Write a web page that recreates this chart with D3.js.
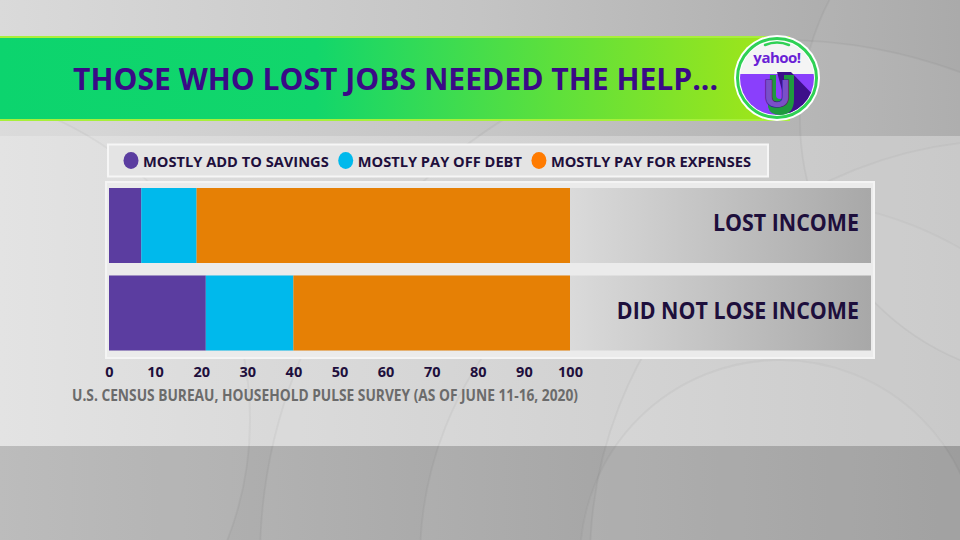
<!DOCTYPE html>
<html>
<head>
<meta charset="utf-8">
<script src="https://cdn.jsdelivr.net/npm/d3@7/dist/d3.min.js"></script>
<style>
  html, body { margin: 0; padding: 0; background: #c8c8c8; }
  svg { display: block; }
  text { font-family: "Open Sans", "DejaVu Sans", sans-serif; font-weight: 700; }
</style>
</head>
<body>
<script>
// ---------- data ----------
const categories = ["LOST INCOME", "DID NOT LOSE INCOME"];
const seriesNames = ["MOSTLY ADD TO SAVINGS", "MOSTLY PAY OFF DEBT", "MOSTLY PAY FOR EXPENSES"];
const savings  = [7, 21];
const debt     = [12, 19];
const expenses = [81, 60];
const tickValues = [0, 10, 20, 30, 40, 50, 60, 70, 80, 90, 100];
const titleText = "THOSE WHO LOST JOBS NEEDED THE HELP...";
const sourceText = "U.S. CENSUS BUREAU, HOUSEHOLD PULSE SURVEY (AS OF JUNE 11-16, 2020)";

const barColors = ["#5b3da0", "#00b9ec", "#e68005"];
const legendColors = ["#5b3da0", "#00b9ec", "#ff7b00"];
const ink = "#1e0f3c";

const W = 960, H = 540;
const svg = d3.select("body").append("svg").attr("width", W).attr("height", H);
const defs = svg.append("defs");

function lin(id, stops, x1, x2, y1, y2, user) {
  const g = defs.append("linearGradient").attr("id", id)
    .attr("x1", x1).attr("x2", x2).attr("y1", y1).attr("y2", y2);
  if (user) g.attr("gradientUnits", "userSpaceOnUse");
  stops.forEach(s => g.append("stop").attr("offset", s[0]).attr("stop-color", s[1]));
}
lin("gTop", [[0, "#dadada"], [0.5, "#c4c4c4"], [1, "#a6a6a6"]], "0%", "100%", "0%", "0%");
lin("gMid", [[0, "#e2e2e2"], [0.5, "#d2d2d2"], [1, "#c2c2c2"]], "0%", "100%", "0%", "0%");
lin("gBot", [[0, "#b9b9b9"], [0.5, "#a4a4a4"], [1, "#8e8e8e"]], "0%", "100%", "0%", "0%");
lin("gBanner", [[0, "#0cd46e"], [0.4, "#12d66b"], [0.7, "#5de03c"], [1, "#a6e616"]], "0%", "100%", "0%", "0%");
lin("gRow", [[0, "#dcdcdc"], [1, "#a8a8a8"]], 560, 871, 0, 0, true);

// ---------- background ----------
svg.append("rect").attr("width", W).attr("height", 136).attr("fill", "url(#gTop)");
svg.append("rect").attr("y", 136).attr("width", W).attr("height", 310).attr("fill", "url(#gMid)");
svg.append("rect").attr("y", 446).attr("width", W).attr("height", 94).attr("fill", "url(#gBot)");

const deco = svg.append("g");
[[780, 560, 200], [780, 560, 360], [780, 560, 520], [1010, 560, 420], [-80, 420, 330], [1060, 120, 260]].forEach(c => {
  deco.append("circle").attr("cx", c[0]).attr("cy", c[1]).attr("r", c[2])
    .attr("fill", "#ffffff").attr("fill-opacity", 0.05)
    .attr("stroke", "#000").attr("stroke-opacity", 0.035).attr("stroke-width", 2);
});

// ---------- banner ----------
svg.append("rect").attr("x", 0).attr("y", 36).attr("width", 790).attr("height", 85).attr("fill", "#a8ef3a");
svg.append("rect").attr("x", 0).attr("y", 38).attr("width", 790).attr("height", 81).attr("fill", "url(#gBanner)");

const title = svg.append("text").attr("x", 73).attr("y", 90)
  .attr("font-size", 30).attr("fill", "#3a0a86").text(titleText);
title.attr("textLength", 645).attr("lengthAdjust", "spacingAndGlyphs");

// logo
const logo = svg.append("g").attr("transform", "translate(777,78)");
logo.append("circle").attr("r", 43).attr("fill", "#ffffff");
logo.append("circle").attr("r", 39.5).attr("fill", "none").attr("stroke", "#2fd155").attr("stroke-width", 3);
defs.append("clipPath").attr("id", "logoClip").append("circle").attr("r", 37);
const lc = logo.append("g").attr("clip-path", "url(#logoClip)");
lc.append("rect").attr("x", -40).attr("y", -40).attr("width", 80).attr("height", 80).attr("fill", "#f4f4f4");
lc.append("rect").attr("x", -40).attr("y", -4).attr("width", 80).attr("height", 44).attr("fill", "#8a3ffc");
lc.append("path").attr("d", "M0,-6 L14,-6 L45,26 L45,45 L14,45 Z").attr("fill", "#3d0f8a");
logo.append("path").attr("d", "M-12,-33 Q0,-38 12,-33").attr("fill", "none").attr("stroke", "#2fd155").attr("stroke-width", 2.5).attr("stroke-linecap", "round");
logo.append("text").attr("x", 0).attr("y", -15).attr("text-anchor", "middle")
  .attr("font-size", 15).attr("fill", "#6a1fd6").attr("letter-spacing", -0.5).text("yahoo!");
// green extrusion of the U (shape)
logo.append("path")
  .attr("d", "M-10,-6 L-4,-6 L-4,14 Q-4,18 0,18 Q4,18 4,14 L4,-6 L14,-6 L14,18 Q14,34 0,34 Q-10,34 -12,26 Z")
  .attr("fill", "#1f9a3e").attr("transform", "translate(3,3)");
logo.append("text").attr("x", 0).attr("y", 29).attr("text-anchor", "middle")
  .attr("font-size", 38).attr("fill", "#7a4fc8").attr("stroke", "#3d0f8a").attr("stroke-width", 1.2)
  .attr("paint-order", "stroke").text("U");

// ---------- legend ----------
svg.append("rect").attr("x", 108).attr("y", 144.5).attr("width", 660).attr("height", 32)
  .attr("fill", "#e4e4e4").attr("stroke", "#f6f6f6").attr("stroke-width", 2);
const leg = svg.append("g");
const legTexts = seriesNames.map(n => leg.append("text").attr("y", 166.5).attr("font-size", 15).attr("fill", ink).text(n));
const natural = legTexts.map(t => t.node().getComputedTextLength());
const kLeg = 550 / d3.sum(natural);
let lx = 123;
legTexts.forEach((t, i) => {
  leg.append("ellipse").attr("cx", lx + 8).attr("cy", 160.5).attr("rx", 7.5).attr("ry", 8.5).attr("fill", legendColors[i]);
  const w = natural[i] * kLeg;
  t.attr("x", lx + 20).attr("textLength", w).attr("lengthAdjust", "spacingAndGlyphs");
  lx = lx + 20 + w + 9;
});

// ---------- chart ----------
const x = d3.scaleLinear().domain([0, 100]).range([109, 570]);
const y = d3.scaleBand().domain(categories).range([188, 350.5]).paddingInner(0.143).paddingOuter(0);

svg.append("rect").attr("x", 106).attr("y", 182).attr("width", 768).attr("height", 176)
  .attr("fill", "#ebebeb").attr("stroke", "#f4f4f4").attr("stroke-width", 2);
svg.append("g").selectAll("rect").data(categories).join("rect")
  .attr("x", 109).attr("y", d => y(d)).attr("width", 871 - 109).attr("height", y.bandwidth())
  .attr("fill", "url(#gRow)");

const rows = categories.map((c, i) => ({ cat: c, vals: [savings[i], debt[i], expenses[i]] }));
const stacked = d3.stack().keys([0, 1, 2]).value((d, k) => d.vals[k])(rows);
svg.append("g").selectAll("g").data(stacked).join("g")
  .attr("fill", (d, i) => barColors[i])
  .selectAll("rect").data(d => d).join("rect")
  .attr("x", d => x(d[0])).attr("width", d => x(d[1]) - x(d[0]))
  .attr("y", d => y(d.data.cat)).attr("height", y.bandwidth());

// category labels
const catLabels = svg.append("g").selectAll("text").data(categories).join("text")
  .attr("x", 859).attr("y", d => y(d) + y.bandwidth() / 2 + 6)
  .attr("text-anchor", "end").attr("font-size", 23).attr("fill", ink).text(d => d);
const n0 = catLabels.nodes()[0].getComputedTextLength();
const kCat = 146 / n0;
catLabels.each(function () {
  const w = this.getComputedTextLength();
  d3.select(this).attr("textLength", w * kCat).attr("lengthAdjust", "spacingAndGlyphs");
});

// axis
const axis = d3.axisBottom(x).tickValues(tickValues).tickSize(0).tickPadding(0);
const ax = svg.append("g").attr("transform", "translate(0,362)").call(axis);
ax.select(".domain").remove();
ax.selectAll("text").attr("font-size", 14.5).attr("fill", ink)
  .attr("font-family", "\"Open Sans\", sans-serif").attr("font-weight", 700).attr("dy", "1em");

// source
const src = svg.append("text").attr("x", 72).attr("y", 401).attr("font-size", 16)
  .attr("fill", "#6b6b6b").attr("font-weight", 600).text(sourceText);
src.attr("textLength", 506).attr("lengthAdjust", "spacingAndGlyphs");
</script>
</body>
</html>
